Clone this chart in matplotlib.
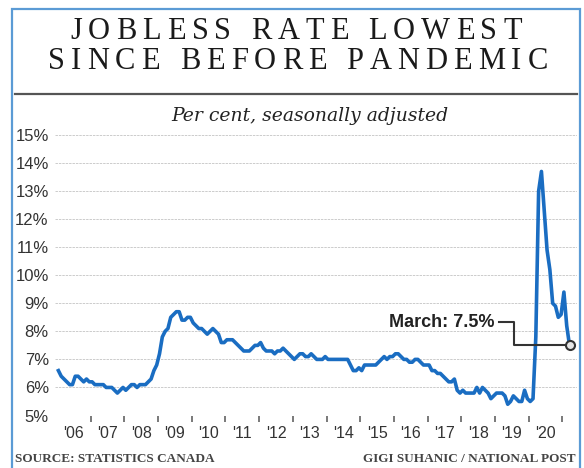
#Recreate the National Post jobless rate chart
import matplotlib
matplotlib.use('Agg')
import matplotlib.pyplot as plt
import matplotlib.transforms as mtransforms
from matplotlib.font_manager import FontProperties
from matplotlib.patches import Rectangle
from matplotlib.lines import Line2D
import numpy as np

#-------------------------------------
#data - monthly unemployment rate (%), Jan 2006 - Mar 2021
#-------------------------------------
rate_2006 = [6.6, 6.4, 6.3, 6.2, 6.1, 6.1, 6.4, 6.4, 6.3, 6.2, 6.3, 6.2]
rate_2007 = [6.2, 6.1, 6.1, 6.1, 6.1, 6.0, 6.0, 6.0, 5.9, 5.8, 5.9, 6.0]
rate_2008 = [5.9, 6.0, 6.1, 6.1, 6.0, 6.1, 6.1, 6.1, 6.2, 6.3, 6.6, 6.8]
rate_2009 = [7.2, 7.8, 8.0, 8.1, 8.5, 8.6, 8.7, 8.7, 8.4, 8.4, 8.5, 8.5]
rate_2010 = [8.3, 8.2, 8.1, 8.1, 8.0, 7.9, 8.0, 8.1, 8.0, 7.9, 7.6, 7.6]
rate_2011 = [7.7, 7.7, 7.7, 7.6, 7.5, 7.4, 7.3, 7.3, 7.3, 7.4, 7.5, 7.5]
rate_2012 = [7.6, 7.4, 7.3, 7.3, 7.3, 7.2, 7.3, 7.3, 7.4, 7.3, 7.2, 7.1]
rate_2013 = [7.0, 7.1, 7.2, 7.2, 7.1, 7.1, 7.2, 7.1, 7.0, 7.0, 7.0, 7.1]
rate_2014 = [7.0, 7.0, 7.0, 7.0, 7.0, 7.0, 7.0, 7.0, 6.8, 6.6, 6.6, 6.7]
rate_2015 = [6.6, 6.8, 6.8, 6.8, 6.8, 6.8, 6.9, 7.0, 7.1, 7.0, 7.1, 7.1]
rate_2016 = [7.2, 7.2, 7.1, 7.0, 7.0, 6.9, 6.9, 7.0, 7.0, 6.9, 6.8, 6.8]
rate_2017 = [6.8, 6.6, 6.6, 6.5, 6.5, 6.4, 6.3, 6.2, 6.2, 6.3, 5.9, 5.8]
rate_2018 = [5.9, 5.8, 5.8, 5.8, 5.8, 6.0, 5.8, 6.0, 5.9, 5.8, 5.6, 5.7]
rate_2019 = [5.8, 5.8, 5.8, 5.7, 5.4, 5.5, 5.7, 5.6, 5.5, 5.5, 5.9, 5.6]
rate_2020 = [5.5, 5.6, 7.8, 13.0, 13.7, 12.3, 10.9, 10.2, 9.0, 8.9, 8.5, 8.6]
rate_2021 = [9.4, 8.2, 7.5]

years = list(range(2006, 2021))
year_labels = ["'06", "'07", "'08", "'09", "'10", "'11", "'12", "'13",
               "'14", "'15", "'16", "'17", "'18", "'19", "'20"]
y_ticks = [5, 6, 7, 8, 9, 10, 11, 12, 13, 14, 15]
y_labels = ['5%', '6%', '7%', '8%', '9%', '10%', '11%', '12%', '13%', '14%', '15%']

title_1 = 'JOBLESS RATE LOWEST'
title_2 = 'SINCE BEFORE PANDEMIC'
subtitle = 'Per cent, seasonally adjusted'
source = 'SOURCE: STATISTICS CANADA'
credit = 'GIGI SUHANIC / NATIONAL POST'
callout = 'March: 7.5%'

#stitch the years together, each month sits in the middle of its slot
rate = np.array(rate_2006 + rate_2007 + rate_2008 + rate_2009 + rate_2010 +
                rate_2011 + rate_2012 + rate_2013 + rate_2014 + rate_2015 +
                rate_2016 + rate_2017 + rate_2018 + rate_2019 + rate_2020 +
                rate_2021)
t = 2006 + (np.arange(len(rate)) + 0.5) / 12

#-------------------------------------
#figure setup
#-------------------------------------
W, H = 584, 468
fig = plt.figure(figsize=(W / 100, H / 100), dpi=100)
fig.patch.set_facecolor('white')
ax = fig.add_axes([55 / W, 1 - 415.5 / H, 522 / W, 280.5 / H])

#helper for letter spaced headline text (matplotlib has no tracking option)
def spaced_text(s, xc, yb, fp, gap, color):
    renderer = fig.canvas.get_renderer()
    widths = [renderer.get_text_width_height_descent(c, fp, ismath=False)[0] for c in s]
    total = sum(widths) + gap * (len(s) - 1)
    x = xc - total / 2
    for c, w in zip(s, widths):
        fig.text(x / W, 1 - yb / H, c, fontproperties=fp, color=color,
                 ha='left', va='baseline')
        x += w + gap

#-------------------------------------
#Time to plot!
#-------------------------------------
ax.plot(t, rate, color='#1a6dc2', lw=2.6, solid_joinstyle='round', zorder=3)

#gridlines
for yv in y_ticks:
    ax.axhline(yv, color='#cccccc', lw=0.7, ls=(0, (2.5, 1)), zorder=1)

ax.set_xlim(2006 - 2 / 33.7, 2006 + 520 / 33.7)
ax.set_ylim(5, 15)
for sp in ax.spines.values():
    sp.set_visible(False)

#y axis labels
ax.set_yticks(y_ticks)
ax.set_yticklabels(y_labels, fontsize=12, color='#333333', family='Liberation Sans')
ax.tick_params(axis='y', length=0, pad=4.5)

#x axis: little tick marks at year breaks, labels in between
ax.set_xticks([y + 1 for y in years])
ax.set_xticklabels([])
ax.tick_params(axis='x', which='major', direction='out', length=4.5, width=1.1,
               color='#555555', pad=0)
ax.set_xticks([y + 0.5 for y in years], minor=True)
ax.set_xticklabels(year_labels, minor=True, fontsize=11.5, color='#333333',
                   family='Liberation Sans')
ax.tick_params(axis='x', which='minor', length=0, pad=7.5)

#callout for the latest point
x_last, y_last = t[-1], rate[-1]
px, py = ax.transData.transform((x_last, y_last))
elbow = mtransforms.Affine2D().translate(px, py)
ax.add_line(Line2D([-71, -56, -56, -4], [23, 23, 0, 0], transform=elbow,
                   color='#333333', lw=1.5, clip_on=False, zorder=4))
ax.plot([x_last], [y_last], 'o', ms=6.5, mfc='#e6e6e6', mec='#333333', mew=1.5,
        clip_on=False, zorder=5)
ax.annotate(callout, xy=(x_last, y_last), xytext=(-75 * 0.72, 23 * 0.72),
            textcoords='offset points', ha='right', va='center', fontsize=13,
            fontweight='bold', color='#222222', family='Liberation Sans')

#-----Finishing touches for the overall figure-----
title_fp = FontProperties(family='Liberation Serif', size=22)
spaced_text(title_1, 296, 39, title_fp, 6.0, '#1a1a1a')
spaced_text(title_2, 298, 69, title_fp, 6.0, '#1a1a1a')

#rule under the headline
fig.add_artist(Line2D([15 / W, 577 / W], [1 - 94 / H, 1 - 94 / H],
                      transform=fig.transFigure, color='#555555', lw=1.6))

fig.text(310 / W, 1 - 121 / H, subtitle, family='DejaVu Serif', style='italic',
         fontsize=13.5, color='#222222', ha='center', va='baseline')

fig.text(15 / W, 1 - 462 / H, source, family='Liberation Serif', fontweight='bold',
         fontsize=9.5, color='#444444', ha='left', va='baseline')
fig.text(576 / W, 1 - 462 / H, credit, family='Liberation Serif', fontweight='bold',
         fontsize=9.5, color='#444444', ha='right', va='baseline')

#blue frame around the graphic
fig.patches.append(Rectangle((12 / W, -0.05), 568 / W, 1.05 - 9 / H,
                             transform=fig.transFigure, fill=False,
                             ec='#5b9bd5', lw=1.6))

fig.savefig('out.png', dpi=100)
